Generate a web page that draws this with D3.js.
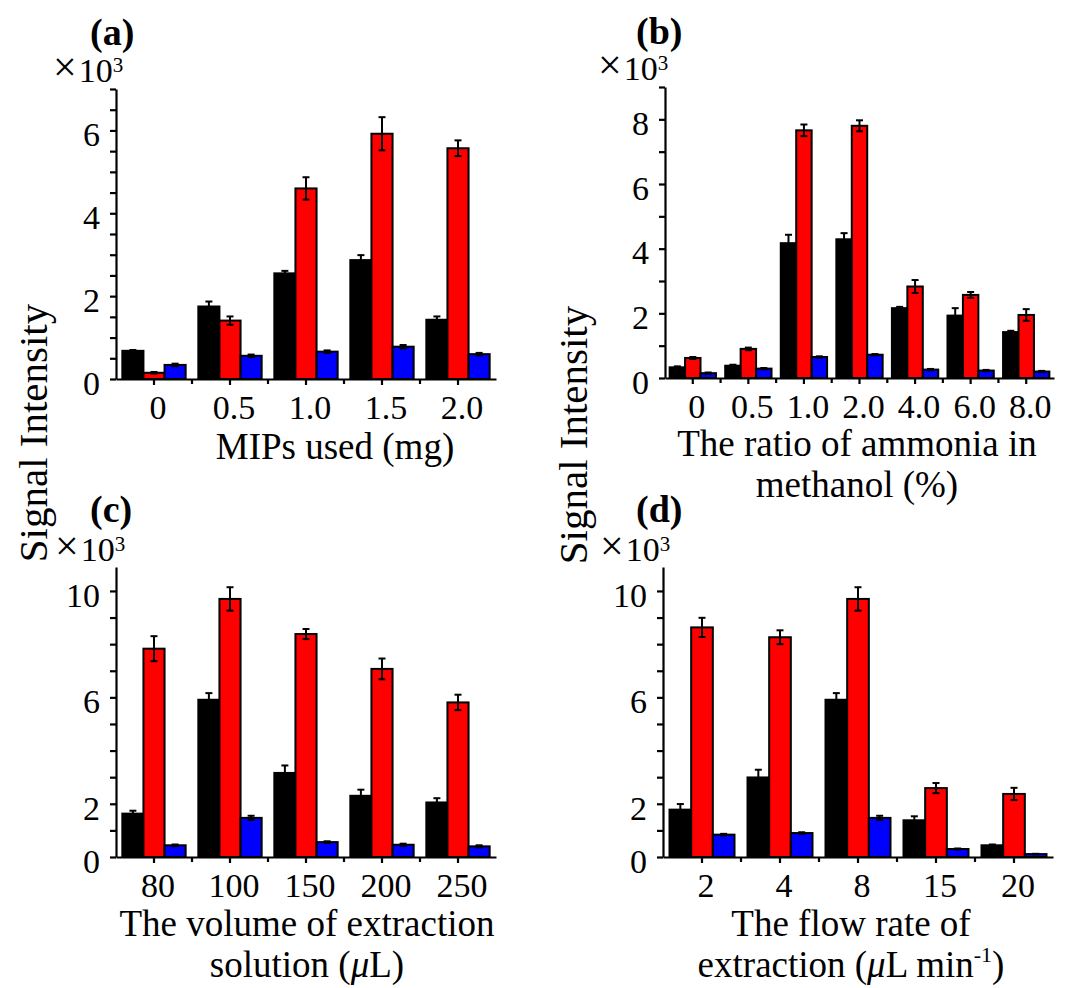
<!DOCTYPE html>
<html>
<head>
<meta charset="utf-8">
<title>Signal intensity bars</title>
<script src="https://cdn.jsdelivr.net/npm/d3@7"></script>
<style>
  body { margin: 0; background: #fff; }
  text { font-family: "Liberation Serif", "Times New Roman", serif; fill: #000; }
</style>
</head>
<body>
<script>
// three series per group: black, red, blue
var seriesNames = ["black", "red", "blue"];
var seriesColors = ["#000000", "#ff0000", "#0000ff"];

// (a) MIPs used
var catsA = ["0", "0.5", "1.0", "1.5", "2.0"];
var blackA = [0.68, 1.75, 2.55, 2.87, 1.43];
var redA = [0.15, 1.41, 4.60, 5.92, 5.57];
var blueA = [0.34, 0.56, 0.66, 0.78, 0.60];
var blackErrA = [0.02, 0.12, 0.06, 0.12, 0.08];
var redErrA = [0.02, 0.10, 0.27, 0.40, 0.19];
var blueErrA = [0.03, 0.03, 0.03, 0.04, 0.03];
var yTickLabelsA = [0, 2, 4, 6];

// (b) ratio of ammonia
var catsB = ["0", "0.5", "1.0", "2.0", "4.0", "6.0", "8.0"];
var blackB = [0.33, 0.38, 4.17, 4.29, 2.16, 1.93, 1.42];
var redB = [0.62, 0.90, 7.66, 7.80, 2.83, 2.57, 1.95];
var blueB = [0.15, 0.29, 0.65, 0.72, 0.26, 0.23, 0.20];
var blackErrB = [0.03, 0.03, 0.26, 0.19, 0.04, 0.23, 0.04];
var redErrB = [0.03, 0.04, 0.18, 0.17, 0.20, 0.09, 0.18];
var blueErrB = [0.02, 0.02, 0.02, 0.02, 0.02, 0.02, 0.02];
var yTickLabelsB = [0, 2, 4, 6, 8];

// (c) volume of extraction solution
var catsC = ["80", "100", "150", "200", "250"];
var blackC = [1.63, 5.91, 3.16, 2.30, 2.05];
var redC = [7.83, 9.70, 8.38, 7.07, 5.81];
var blueC = [0.44, 1.47, 0.56, 0.46, 0.40];
var blackErrC = [0.11, 0.25, 0.28, 0.23, 0.16];
var redErrC = [0.47, 0.44, 0.19, 0.39, 0.29];
var blueErrC = [0.03, 0.08, 0.03, 0.04, 0.04];
var yTickLabelsC = [0, 2, 6, 10];

// (d) flow rate of extraction
var catsD = ["2", "4", "8", "15", "20"];
var blackD = [1.78, 2.99, 5.91, 1.38, 0.44];
var redD = [8.63, 8.26, 9.70, 2.59, 2.37];
var blueD = [0.84, 0.90, 1.47, 0.30, 0.11];
var blackErrD = [0.21, 0.29, 0.25, 0.15, 0.03];
var redErrD = [0.36, 0.26, 0.44, 0.19, 0.23];
var blueErrD = [0.03, 0.03, 0.08, 0.02, 0.01];
var yTickLabelsD = [0, 2, 6, 10];

var w = 1069, h = 988;
var svg = d3.select("body").append("svg").attr("width", w).attr("height", h);

var panels = [
  { tag: "(a)", cats: catsA, vals: [blackA, redA, blueA], errs: [blackErrA, redErrA, blueErrA],
    x0: 116, x1: 496, y0: 379, yTop: 89, ymax: 7, yTicks: d3.range(0, 7.01, 0.5), yLabels: yTickLabelsA,
    title: ["MIPs used (mg)"], titleX: 335, titleY: 459, tagX: 90, tagY: 45, expX: 53, expY: 82 },
  { tag: "(b)", cats: catsB, vals: [blackB, redB, blueB], errs: [blackErrB, redErrB, blueErrB],
    x0: 665, x1: 1054, y0: 378, yTop: 87, ymax: 9, yTicks: d3.range(0, 9.01, 1), yLabels: yTickLabelsB,
    title: ["The ratio of ammonia in", "methanol (%)"], titleX: 857, titleY: 456, tagX: 636, tagY: 44, expX: 598, expY: 80 },
  { tag: "(c)", cats: catsC, vals: [blackC, redC, blueC], errs: [blackErrC, redErrC, blueErrC],
    x0: 116, x1: 496, y0: 857, yTop: 567, ymax: 10.9, yTicks: d3.range(0, 10.01, 1), yLabels: yTickLabelsC,
    title: ["The volume of extraction", "solution (\u03bcL)"], titleX: 307, titleY: 936, tagX: 90, tagY: 522, expX: 55, expY: 561 },
  { tag: "(d)", cats: catsD, vals: [blackD, redD, blueD], errs: [blackErrD, redErrD, blueErrD],
    x0: 663, x1: 1053, y0: 857, yTop: 567, ymax: 10.9, yTicks: d3.range(0, 10.01, 1), yLabels: yTickLabelsD,
    title: ["The flow rate of", "extraction (\u03bcL min-1)"], titleX: 851, titleY: 936, tagX: 636, tagY: 522, expX: 600, expY: 561 }
];

panels.forEach(function(p) {
  var g = svg.append("g");
  var x = d3.scaleBand().domain(p.cats).range([p.x0, p.x1]);
  var s = d3.scaleBand().domain(seriesNames).range([0, x.bandwidth()]).paddingOuter(0.3);
  var y = d3.scaleLinear().domain([0, p.ymax]).range([p.y0, p.yTop]);

  // bars
  p.vals.forEach(function(arr, k) {
    g.selectAll(null)
      .data(arr)
      .enter()
        .append("rect")
        .attr("x", function(d, i) { return x(p.cats[i]) + s(seriesNames[k]); })
        .attr("y", function(d) { return y(d); })
        .attr("width", s.bandwidth())
        .attr("height", function(d) { return y(0) - y(d); })
        .attr("fill", seriesColors[k])
        .attr("stroke", "#000")
        .attr("stroke-width", 2);
  });

  // error bars
  p.vals.forEach(function(arr, k) {
    var e = p.errs[k];
    var cx = function(i) { return x(p.cats[i]) + s(seriesNames[k]) + s.bandwidth() / 2; };
    var eg = g.selectAll(null).data(arr).enter().append("g")
      .attr("stroke", "#000").attr("stroke-width", 2);
    eg.append("line")
      .attr("x1", function(d, i) { return cx(i); })
      .attr("x2", function(d, i) { return cx(i); })
      .attr("y1", function(d, i) { return y(d + e[i]); })
      .attr("y2", function(d, i) { return y(d - e[i]); });
    [1, -1].forEach(function(sg) {
      eg.append("line")
        .attr("x1", function(d, i) { return cx(i) - 3.5; })
        .attr("x2", function(d, i) { return cx(i) + 3.5; })
        .attr("y1", function(d, i) { return y(d + sg * e[i]); })
        .attr("y2", function(d, i) { return y(d + sg * e[i]); });
    });
  });

  // y axis
  var ya = g.append("g")
    .attr("transform", "translate(" + p.x0 + ",0)")
    .call(d3.axisLeft(y).tickValues(p.yTicks).tickSize(6).tickSizeOuter(0).tickPadding(10)
      .tickFormat(function(d) { return p.yLabels.indexOf(d) >= 0 ? d : ""; }));
  ya.selectAll("path, line").attr("stroke-width", 2.2);
  ya.selectAll("text").attr("font-size", 34).attr("font-family", "Liberation Serif").attr("dy", "0.45em");

  // x axis
  var xa = g.append("g")
    .attr("transform", "translate(0," + p.y0 + ")")
    .call(d3.axisBottom(x).tickSize(6).tickSizeOuter(0).tickPadding(10));
  xa.selectAll("path, line").attr("stroke-width", 2.2);
  xa.selectAll("text").attr("font-size", 34).attr("font-family", "Liberation Serif").attr("dx", 4);
  // small ticks between groups
  xa.selectAll(null)
    .data(p.cats.slice(1))
    .enter()
      .append("line")
      .attr("x1", function(d) { return x(d); })
      .attr("x2", function(d) { return x(d); })
      .attr("y1", 0).attr("y2", 5)
      .attr("stroke", "#000").attr("stroke-width", 2.2);

  // axis title
  g.selectAll(null)
    .data(p.title)
    .enter()
      .append("text")
      .attr("x", p.titleX)
      .attr("y", function(d, i) { return p.titleY + i * 41; })
      .attr("text-anchor", "middle")
      .attr("font-size", 37)
      .each(function(d) {
        var t = d3.select(this);
        var m = d.indexOf("\u03bc");
        if (m < 0) { t.text(d); return; }
        t.append("tspan").text(d.slice(0, m));
        t.append("tspan").attr("font-style", "italic").text("\u03bc");
        var rest = d.slice(m + 1);
        if (rest.indexOf("-1") >= 0) {
          var parts = rest.split("-1");
          t.append("tspan").text(parts[0]);
          t.append("tspan").attr("font-size", 22).attr("dy", -15).text("-1");
          t.append("tspan").attr("dy", 15).text(parts[1]);
        } else {
          t.append("tspan").text(rest);
        }
      });

  // panel tag
  g.append("text")
    .attr("x", p.tagX).attr("y", p.tagY)
    .attr("font-size", 38).attr("font-weight", "bold")
    .text(p.tag);

  // multiplier
  var ex = g.append("text")
    .attr("x", p.expX).attr("y", p.expY)
    .attr("font-size", 34);
  ex.append("tspan").attr("font-size", 42).attr("dy", -1).text("\u00d7");
  ex.append("tspan").attr("dx", 2).attr("dy", 1).text("10");
  ex.append("tspan").attr("font-size", 21).attr("dy", -10).text("3");
});

// shared y titles
[{ x: 47, y: 433 }, { x: 587, y: 435 }].forEach(function(d) {
  svg.append("text")
    .attr("transform", "translate(" + d.x + "," + d.y + ") rotate(-90)")
    .attr("text-anchor", "middle")
    .attr("font-size", 41)
    .text("Signal Intensity");
});
</script>
</body>
</html>
